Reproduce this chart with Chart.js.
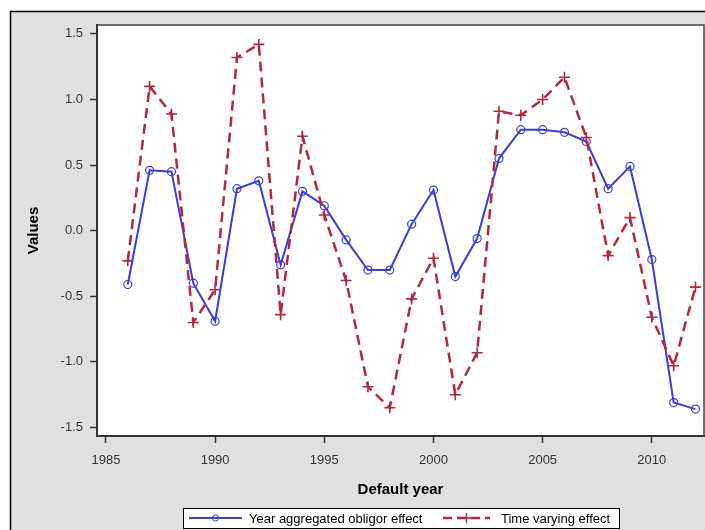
<!DOCTYPE html>
<html>
<head>
<meta charset="utf-8">
<script src="https://cdn.jsdelivr.net/npm/chart.js@4/dist/chart.umd.min.js"></script>
<style>
  html, body { margin: 0; padding: 0; background: #fff; }
  #wrap { width: 705px; height: 530px; position: relative; }
</style>
</head>
<body>
<div id="wrap"><canvas id="chart"></canvas></div>
<script>
const years = [1986, 1987, 1988, 1989, 1990, 1991, 1992, 1993, 1994, 1995, 1996, 1997, 1998, 1999,
  2000, 2001, 2002, 2003, 2004, 2005, 2006, 2007, 2008, 2009, 2010, 2011, 2012]

const obligorEffect = [-0.41, 0.46, 0.45, -0.40, -0.69, 0.32, 0.38, -0.26, 0.30, 0.19, -0.07, -0.30, -0.30, 0.05,
  0.31, -0.35, -0.06, 0.55, 0.77, 0.77, 0.75, 0.68, 0.32, 0.49, -0.22, -1.31, -1.36]

const timeVaryingEffect = [-0.23, 1.10, 0.89, -0.70, -0.45, 1.32, 1.42, -0.64, 0.72, 0.12, -0.38, -1.19, -1.35, -0.52,
  -0.21, -1.25, -0.93, 0.91, 0.88, 1.00, 1.17, 0.71, -0.19, 0.10, -0.66, -1.03, -0.43]

const xTicks = [1985, 1990, 1995, 2000, 2005, 2010]
const yTicks = [-1.5, -1.0, -0.5, 0.0, 0.5, 1.0, 1.5]

const seriesNames = ['Year aggregated obligor effect', 'Time varying effect']

const BLUE = '#3b3bdf'
const RED = '#b5283c'
const AXIS = '#333333'
const FONT = '"Liberation Sans", Arial, sans-serif'

// gray frame, white plot area and its border
const framePlugin = {
  id: 'frame',
  beforeDraw (chart) {
    const { ctx, chartArea: a } = chart
    ctx.save()
    ctx.fillStyle = '#ffffff'
    ctx.fillRect(0, 0, chart.width, chart.height)
    ctx.fillStyle = '#e0e0e0'
    ctx.fillRect(10, 11, chart.width, chart.height)
    ctx.strokeStyle = '#000000'
    ctx.lineWidth = 1.5
    ctx.beginPath()
    ctx.moveTo(10.5, chart.height)
    ctx.lineTo(10.5, 11.5)
    ctx.lineTo(chart.width, 11.5)
    ctx.stroke()
    ctx.fillStyle = '#ffffff'
    ctx.fillRect(a.left, a.top, a.right - a.left, a.bottom - a.top)
    ctx.strokeStyle = '#444444'
    ctx.lineWidth = 1.5
    ctx.strokeRect(a.left, a.top, a.right - a.left, a.bottom - a.top)
    ctx.restore()
  }
}

// boxed legend under the axis title
const legendPlugin = {
  id: 'boxLegend',
  afterDraw (chart) {
    const { ctx } = chart
    const top = 508
    const h = 20
    const left = 183
    const right = 619
    const cy = top + h / 2
    ctx.save()
    ctx.fillStyle = '#ffffff'
    ctx.fillRect(left, top, right - left, h)
    ctx.strokeStyle = '#000000'
    ctx.lineWidth = 1
    ctx.strokeRect(left + 0.5, top + 0.5, right - left, h)

    ctx.font = '13px ' + FONT
    ctx.fillStyle = '#000000'
    ctx.textBaseline = 'middle'

    // first entry
    ctx.strokeStyle = BLUE
    ctx.lineWidth = 2
    ctx.setLineDash([])
    ctx.beginPath()
    ctx.moveTo(189, cy)
    ctx.lineTo(242, cy)
    ctx.stroke()
    ctx.lineWidth = 1
    ctx.beginPath()
    ctx.arc(215.5, cy, 3, 0, Math.PI * 2)
    ctx.stroke()
    ctx.fillText(seriesNames[0], 249, cy + 1)

    // second entry
    ctx.strokeStyle = RED
    ctx.lineWidth = 2.5
    ctx.setLineDash([9, 5])
    ctx.beginPath()
    ctx.moveTo(443, cy)
    ctx.lineTo(490, cy)
    ctx.stroke()
    ctx.setLineDash([])
    ctx.lineWidth = 1.5
    ctx.beginPath()
    ctx.moveTo(466.5, cy - 5)
    ctx.lineTo(466.5, cy + 5)
    ctx.moveTo(461.5, cy)
    ctx.lineTo(471.5, cy)
    ctx.stroke()
    ctx.fillText(seriesNames[1], 501, cy + 1)
    ctx.restore()
  }
}

const ctx = document.getElementById('chart').getContext('2d')

new Chart(ctx, {
  type: 'line',
  data: {
    datasets: [
      {
        label: seriesNames[0],
        data: years.map((y, i) => ({ x: y, y: obligorEffect[i] })),
        borderColor: BLUE,
        borderWidth: 2,
        pointStyle: 'circle',
        pointRadius: 4,
        pointBorderWidth: 1.2,
        pointBorderColor: BLUE,
        pointBackgroundColor: 'rgba(0,0,0,0)',
        tension: 0,
        order: 2
      },
      {
        label: seriesNames[1],
        data: years.map((y, i) => ({ x: y, y: timeVaryingEffect[i] })),
        borderColor: RED,
        borderWidth: 2.5,
        borderDash: [10, 6],
        pointStyle: 'cross',
        pointRadius: 5.5,
        pointBorderWidth: 1.6,
        pointBorderColor: RED,
        pointBackgroundColor: RED,
        tension: 0,
        order: 1
      }
    ]
  },
  options: {
    responsive: true,
    maintainAspectRatio: false,
    animation: false,
    layout: { autoPadding: false, padding: { left: 0, top: 25, right: 1, bottom: 34 } },
    plugins: {
      legend: { display: false },
      tooltip: { enabled: false }
    },
    scales: {
      x: {
        type: 'linear',
        min: 1984.59,
        max: 2012.39,
        afterBuildTicks: scale => { scale.ticks = xTicks.map(v => ({ value: v })) },
        afterFit: scale => {
          scale.height = 60
          scale.paddingLeft = 0
          scale.paddingRight = 0
        },
        grid: {
          display: true,
          drawOnChartArea: false,
          drawTicks: true,
          tickLength: 7,
          tickWidth: 1.5,
          tickColor: AXIS
        },
        border: { display: true, color: AXIS, width: 2 },
        ticks: {
          color: '#333333',
          font: { family: FONT, size: 13 },
          padding: 10,
          maxRotation: 0,
          callback: v => String(v)
        },
        title: {
          display: true,
          text: 'Default year',
          color: '#000000',
          font: { family: FONT, size: 15, weight: 'bold' },
          padding: { top: 0, bottom: -3 }
        }
      },
      y: {
        type: 'linear',
        min: -1.565,
        max: 1.568,
        afterBuildTicks: scale => { scale.ticks = yTicks.map(v => ({ value: v })) },
        afterFit: scale => {
          scale.width = 97
          scale.paddingTop = 0
          scale.paddingBottom = 0
        },
        grid: {
          display: true,
          drawOnChartArea: false,
          drawTicks: true,
          tickLength: 7,
          tickWidth: 1.5,
          tickColor: AXIS
        },
        border: { display: true, color: AXIS, width: 2 },
        ticks: {
          color: '#333333',
          font: { family: FONT, size: 13 },
          padding: 7,
          callback: v => v.toFixed(1)
        },
        title: {
          display: true,
          text: 'Values',
          color: '#000000',
          font: { family: FONT, size: 15, weight: 'bold' },
          padding: { top: 25, bottom: 0 }
        }
      }
    }
  },
  plugins: [framePlugin, legendPlugin]
})
</script>
</body>
</html>
